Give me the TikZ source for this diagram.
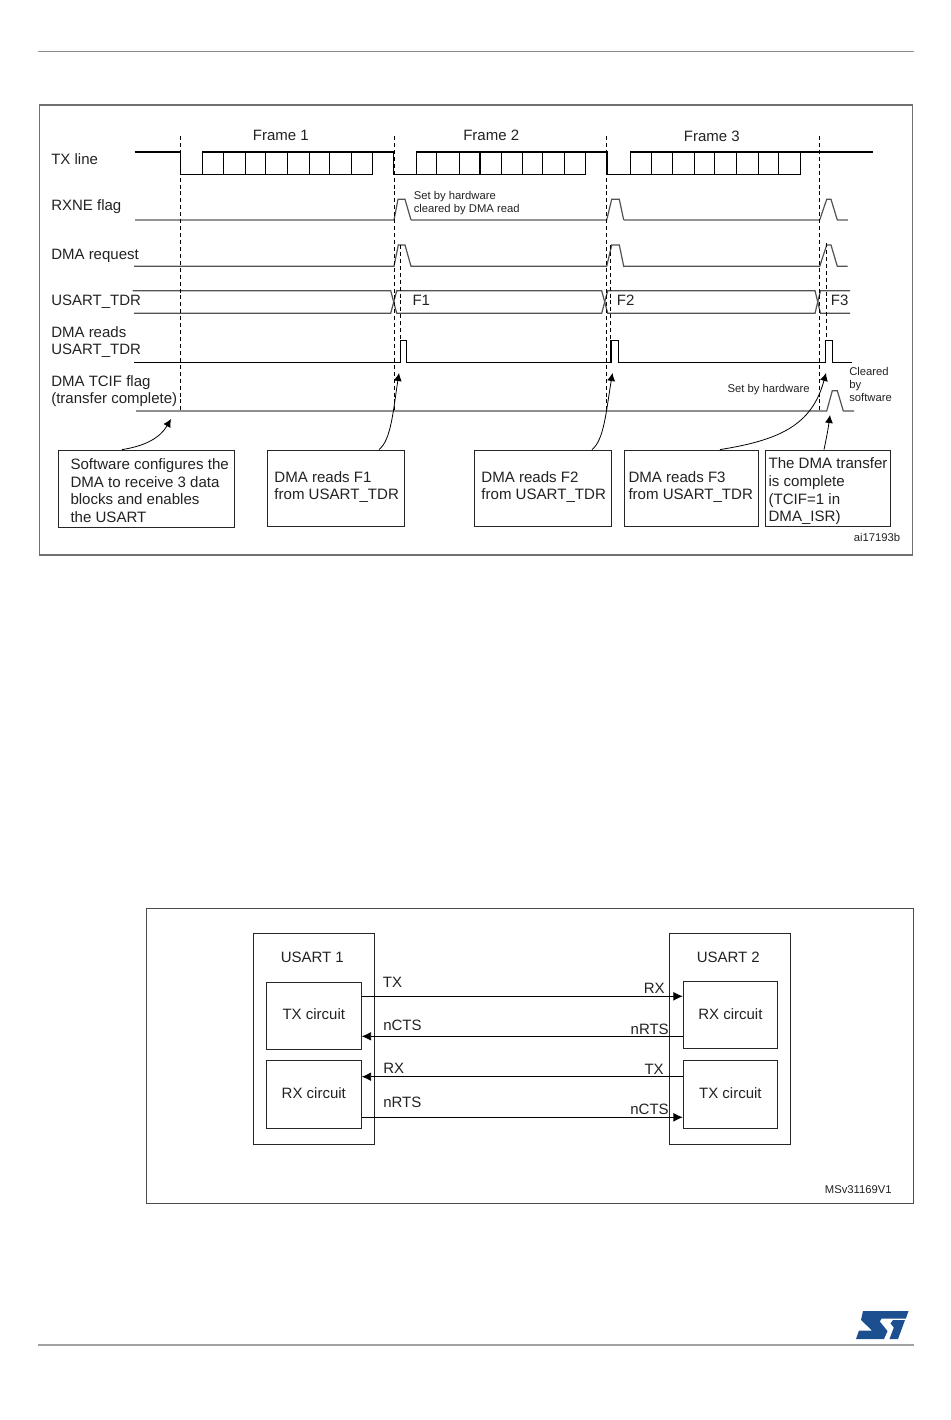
\documentclass[tikz,border=0pt]{standalone}
\usepackage{fontspec}
\setmainfont{Liberation Sans}
\usetikzlibrary{arrows.meta}
\definecolor{inkc}{HTML}{222222}
\definecolor{framec}{HTML}{707070}
\definecolor{pagec}{HTML}{8A8A8A}
\definecolor{stblue}{HTML}{1B4F8F}
\newcommand{\tbody}[4]{\makebox[#1][l]{\rule[-20pt]{0pt}{40pt}\hspace*{#2}\smash{\raisebox{#3}{\begin{tabular}{@{}l@{}}#4\end{tabular}}}}}
\tikzset{
  lbl/.style={anchor=base west,inner sep=0pt,text=inkc,font=\fontsize{11.25pt}{13pt}\selectfont},
  lblr/.style={lbl,anchor=base east},
  small/.style={lbl,font=\fontsize{8.45pt}{10pt}\selectfont},
  sig/.style={line width=0.8pt,black},
  siggray/.style={line width=1pt,black!42},
  sigdark/.style={line width=0.9pt,black!68},
  vdash/.style={line width=0.7pt,black,dash pattern=on 3pt off 2.2pt},
  framebox/.style={draw=framec,line width=0.8pt},
  framethin/.style={draw=black!70,line width=0.65pt},
  callout/.style={draw=black!85,line width=0.6pt,inner sep=0pt,text=inkc,font=\fontsize{11.3pt}{13.2pt}\selectfont},
  block/.style={draw=black!85,line width=0.65pt,inner sep=0pt,text=inkc,font=\fontsize{11.25pt}{13pt}\selectfont},
  note/.style={line width=0.6pt,black,-{Latex[length=6pt,width=6pt]}},
  link/.style={line width=0.6pt,black,-{Latex[length=7pt,width=6.5pt]}}
}
\begin{document}
\begin{tikzpicture}[x=0.75pt,y=-0.75pt]
\useasboundingbox (0,0) rectangle (950,1420);
% page rules
\draw[pagec,line width=0.8pt] (38,51.5) -- (914,51.5);
\draw[pagec!80,line width=1.4pt] (38,1345) -- (914,1345);
% frames
\draw[framebox] (39.5,105) rectangle (912.5,555);
\draw[framethin] (146.5,908.5) rectangle (913.5,1203.5);
% TX line
\draw[sig] (134.5,152) -- (180.7,152) -- (180.7,174.5) -- (372.3,174.5) -- (372.3,152) -- (202.3,152) -- (202.3,174.5);
\draw[sig] (372.3,152) -- (393.7,152) -- (393.7,174.5) -- (585.3,174.5) -- (585.3,152) -- (416.3,152) -- (416.3,174.5);
\draw[sig] (585.3,152) -- (607,152) -- (607,174.5) -- (800.5,174.5) -- (800.5,152) -- (630.3,152) -- (630.3,174.5);
\draw[sig] (800.5,152) -- (873.3,152);
\foreach \x in {223.3,245.3,265.3,287.3,309.3,329.3,351.3,
                436.7,459.3,480,501.3,522.3,542.3,564.3,
                651.3,672.3,694.3,714.3,736.3,758.3,778.3}
  \draw[sig] (\x,152) -- (\x,174.5);
% RXNE
\draw[siggray] (135,220) -- (394,220) (411,220) -- (606.7,220) (623.7,220) -- (819.7,220) (837.3,220) -- (847.7,220);
\draw[sigdark] (394,220) -- (398,199.3) -- (405,199.3) -- (411,220);
\draw[sigdark] (606.7,220) -- (611.7,199.3) -- (619.3,199.3) -- (623.7,220);
\draw[sigdark] (819.7,220) -- (826.7,199.3) -- (831,199.3) -- (837.3,220);
% DMA request
\draw[sigdark] (134,266.3) -- (394,266.3) -- (398.3,245) -- (405,245) -- (411,266.3)
  -- (606.7,266.3) -- (611.7,245) -- (619.3,245) -- (623.7,266.3)
  -- (819.7,266.3) -- (826.7,245) -- (831,245) -- (837.3,266.3) -- (847.7,266.3);
% USART_TDR
\draw[sigdark] (132.7,290.7) -- (390.7,290.7) -- (396.7,313.3) -- (601.7,313.3) -- (607.7,290.7) -- (815,290.7) -- (820.5,313.3) -- (850,313.3);
\draw[sigdark] (134,313.3) -- (390.7,313.3) -- (396.7,290.7) -- (601.7,290.7) -- (607.7,313.3) -- (815,313.3) -- (820.5,290.7) -- (850,290.7);
% DMA reads
\draw[sig] (134,362.3) -- (400.7,362.3) -- (400.7,340.3) -- (406.7,340.3) -- (406.7,362.3)
  -- (611,362.3) -- (611,340.3) -- (618.3,340.3) -- (618.3,362.3)
  -- (825.3,362.3) -- (825.3,340.3) -- (832.3,340.3) -- (832.3,362.3) -- (851.7,362.3);
% TCIF
\draw[sigdark] (136,411) -- (826.7,411) -- (832.3,390.7) -- (837.3,390.7) -- (843.3,411) -- (854,411);
% dashes
\foreach \x in {180.7,394.5,606.5,819.4}
  \draw[vdash] (\x,136) -- (\x,411);
\foreach \x in {400.7,610.3}
  \draw[vdash] (\x,245) -- (\x,340);
\draw[vdash] (826.7,243) -- (826.7,340);
% labels
\node[lbl] (ltx) at (51,164) {TX line};
\node[lbl] (lrx) at (51,210) {RXNE flag};
\node[lbl] (ldr) at (51,259) {DMA request};
\node[lbl] (ltd) at (51,305.5) {USART\_TDR};
\node[lbl] (lr1) at (51,337) {DMA reads};
\node[lbl] (lr2) at (51,354.5) {USART\_TDR};
\node[lbl] (lf1) at (51,386) {DMA TCIF flag};
\node[lbl] (lf2) at (51,403) {(transfer complete)};
\node[lbl] (fr1) at (252.7,140.7) {Frame 1};
\node[lbl] (fr2) at (463,140) {Frame 2};
\node[lbl] (fr3) at (683.7,141) {Frame 3};
\node[lbl] (f1) at (412.3,305) {F1};
\node[lbl] (f2) at (616.7,305) {F2};
\node[lbl] (f3) at (830.7,305) {F3};
\node[small] (sh1) at (413.5,199.3) {Set by hardware};
\node[small] (sh2) at (413.5,212) {cleared by DMA read};
\node[small] (sh3) at (727.3,392) {Set by hardware};
\node[small] (cl1) at (849,375) {Cleared};
\node[small] (cl2) at (849,388) {by};
\node[small] (cl3) at (849,401) {software};
\node[small,anchor=base east] (ai) at (900.5,541) {ai17193b};
% callouts
\node[callout,minimum width=132pt,minimum height=57.75pt] (c0) at (146.5,488.5)
  {\tbody{132pt}{9pt}{-5.6pt}{Software configures the\\DMA to receive 3 data\\blocks and enables\\the USART}};
\node[callout,minimum width=102.75pt,minimum height=57pt] (c1) at (336,488)
  {\tbody{102.75pt}{5.2pt}{-2.4pt}{DMA reads F1\\from USART\_TDR}};
\node[callout,minimum width=102.75pt,minimum height=57pt] (c2) at (543,488)
  {\tbody{102.75pt}{5.2pt}{-2.4pt}{DMA reads F2\\from USART\_TDR}};
\node[callout,minimum width=100.5pt,minimum height=57pt] (c3) at (691.5,488)
  {\tbody{100.5pt}{3pt}{-2.4pt}{DMA reads F3\\from USART\_TDR}};
\node[callout,minimum width=93.75pt,minimum height=57pt] (c4) at (828,488)
  {\tbody{93.75pt}{2.3pt}{-5.6pt}{The DMA transfer\\is complete\\(TCIF=1 in\\DMA\_ISR)}};
% arrow ends
\coordinate (a0) at (171,419); \coordinate (s0) at (122,450);
\coordinate (a1) at (399,373); \coordinate (s1) at (379,450);
\coordinate (a2) at (612.5,373); \coordinate (s2) at (592,450);
\coordinate (a3) at (826,373); \coordinate (s3) at (720,450);
\coordinate (a4) at (830,415); \coordinate (s4) at (824,450);
\draw[note] (c0.north -| s0) .. controls (145,446) and (160,438) .. (a0);
\draw[note] (c1.north -| s1) .. controls (391,440) and (393,412) .. (a1);
\draw[note] (c2.north -| s2) .. controls (604,440) and (606,412) .. (a2);
\draw[note] (c3.north -| s3) .. controls (780,440) and (812,425) .. (a3);
\draw[note] (c4.north -| s4) .. controls (826,440) and (828,430) .. (a4);
% second diagram
\node[block,minimum width=90.75pt,minimum height=158.25pt] (u1) at (314,1039) {};
\node[block,minimum width=90.75pt,minimum height=158.25pt] (u2) at (730,1039) {};
\node[lbl] (u1t) at (280.5,962) {USART 1};
\node[lbl] (u2t) at (696.5,962) {USART 2};
\node[block,minimum width=71.25pt,minimum height=50.25pt] (tx1) at (313.8,1015.8) {\raisebox{2pt}{TX circuit}};
\node[block,minimum width=71.25pt,minimum height=51pt] (rx1) at (313.8,1094.3) {\raisebox{2pt}{RX circuit}};
\node[block,minimum width=70.75pt,minimum height=50.25pt] (rx2) at (730.4,1015) {\raisebox{2pt}{RX circuit}};
\node[block,minimum width=70.75pt,minimum height=51pt] (tx2) at (730.4,1094.5) {\raisebox{2pt}{TX circuit}};
\coordinate (l1) at (500,996.3);
\coordinate (l2) at (500,1036.3);
\coordinate (l3) at (500,1076.7);
\coordinate (l4) at (500,1117.3);
\draw[link] (tx1.east |- l1) -- (rx2.west |- l1);
\draw[link] (rx2.west |- l2) -- (tx1.east |- l2);
\draw[link] (tx2.west |- l3) -- (rx1.east |- l3);
\draw[link] (rx1.east |- l4) -- (tx2.west |- l4);
\node[lbl] (t1) at (382.7,987) {TX};
\node[lbl] (t2) at (383,1030) {nCTS};
\node[lbl] (t3) at (383,1073.7) {RX};
\node[lbl] (t4) at (383,1107.7) {nRTS};
\node[lblr] (t5) at (665,993) {RX};
\node[lblr] (t6) at (669,1034) {nRTS};
\node[lblr] (t7) at (664,1074) {TX};
\node[lblr] (t8) at (669,1114) {nCTS};
\node[small,anchor=base east] (ms) at (892,1193) {MSv31169V1};
% logo
\fill[stblue] (863,1311) -- (908.5,1311) -- (905.8,1318.7) -- (881.5,1318.7) -- (879.8,1321.5) -- (887.5,1331) -- (884,1339) -- (856,1339) -- (859,1330.5) -- (872,1330.5) -- (861,1320) -- cycle;
\fill[stblue] (893,1320) -- (905,1320) -- (898,1339) -- (889.5,1339) -- (893.8,1327.5) -- (890.5,1323.5) -- cycle;
\end{tikzpicture}
\end{document}
